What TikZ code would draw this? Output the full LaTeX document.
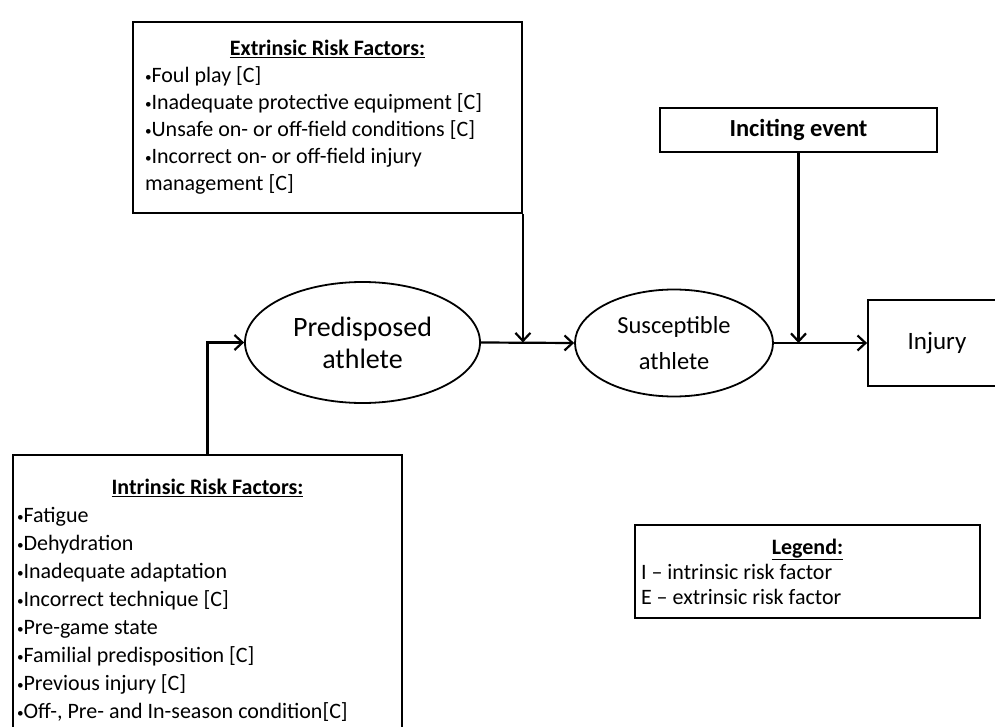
\documentclass[tikz,border=0pt]{standalone}
\usepackage{fontspec}
\setmainfont{Carlito}
\usetikzlibrary{arrows.meta, shapes.geometric}
\newcommand{\bul}{\raisebox{0.1ex}{\scalebox{0.6}{•}}}

\begin{document}
\begin{tikzpicture}[x=1pt, y=-1pt,
  box/.style={draw, line width=1.8pt, inner sep=0pt, align=flush left},
  athlete/.style={draw, ellipse, line width=1.8pt, inner sep=0pt, align=center},
  flow/.style={line width=2.2pt, -{Straight Barb[length=8pt, width=15pt, line width=2.2pt]}}]
\useasboundingbox (0,0) rectangle (995,727);
\fill[white] (0,0) rectangle (995,727);
% risk factor boxes
\node[box, minimum width=389, minimum height=191, text width=365,
  font=\fontsize{22}{27}\selectfont] (extr) at (327.5,117.5)
  {\makebox[\linewidth]{\textbf{\underline{Extrinsic Risk Factors:}}}\\
   \bul Foul play [C]\\
   \bul Inadequate protective equipment [C]\\
   \bul Unsafe on- or off-field conditions [C]\\
   \bul Incorrect on- or off-field injury\\
   management [C]};
\node[box, minimum width=389, minimum height=290, text width=381,
  font=\fontsize{22}{28}\selectfont] (intr) at (207.5,600)
  {\makebox[\linewidth]{\textbf{\underline{Intrinsic Risk Factors:}}}\\
   \bul Fatigue\\
   \bul Dehydration\\
   \bul Inadequate adaptation\\
   \bul Incorrect technique [C]\\
   \bul Pre-game state\\
   \bul Familial predisposition [C]\\
   \bul Previous injury [C]\\
   \bul Off-, Pre- and In-season condition[C]};
\node[box, minimum width=277, minimum height=44, align=center,
  font=\fontsize{24.5}{28}\selectfont\bfseries] (incite) at (798.5,130) {Inciting event};
% athletes and injury
\node[athlete, minimum width=235, minimum height=121,
  font=\fontsize{28}{32}\selectfont] (pred) at (362.5,342.5) {Predisposed\\athlete};
\node[athlete, minimum width=198, minimum height=107,
  font=\fontsize{24.5}{36}\selectfont] (susc) at (674,343) {Susceptible\\athlete};
\node[box, minimum width=138, minimum height=86, align=center,
  font=\fontsize{25}{28}\selectfont] (injury) at (937,343) {Injury};
% legend
\node[box, minimum width=345, minimum height=93, text width=333,
  font=\fontsize{22}{25}\selectfont] (legend) at (807.5,571.5)
  {\makebox[\linewidth]{\textbf{\underline{Legend:}}}\\
   I – intrinsic risk factor\\
   E – extrinsic risk factor};
% connectors
\coordinate (j1) at (extr.south east |- pred.east);
\coordinate (j2) at (incite.south |- susc.east);
\draw[flow] (intr.north) |- (pred.west);
\draw[flow] (pred.east) -- (susc.west);
\draw[flow] (extr.south east) -- (j1);
\draw[flow] (incite.south) -- (j2);
\draw[flow] (susc.east) -- (injury.west);
\end{tikzpicture}
\end{document}
